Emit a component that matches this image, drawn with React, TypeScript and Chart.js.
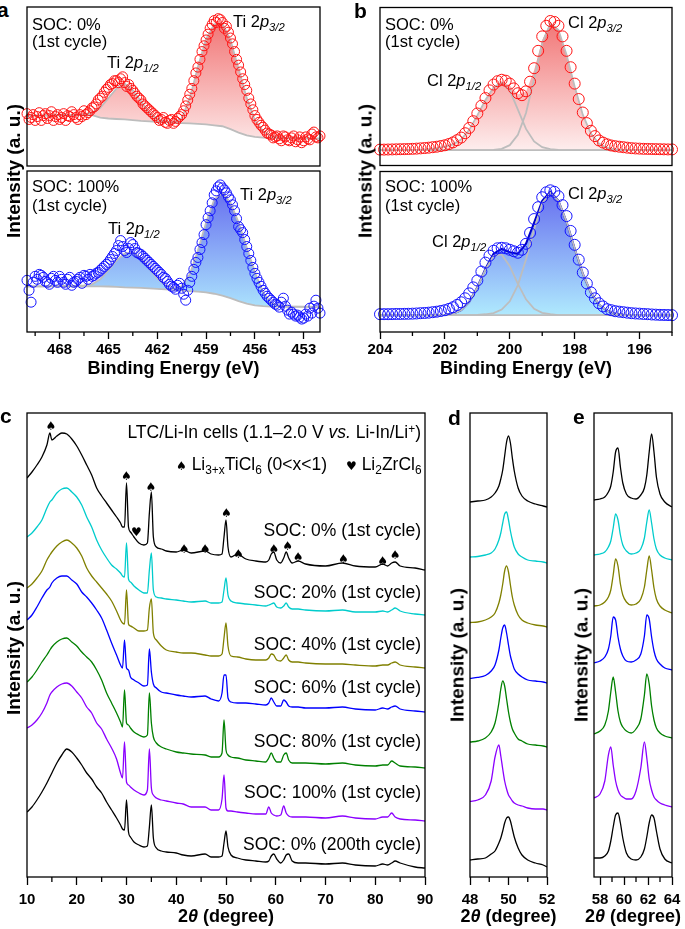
import React, { useEffect, useRef } from 'react';
import { Chart, registerables } from 'chart.js';

Chart.register(...registerables);

const FONT = '"Liberation Sans", Arial, Helvetica, sans-serif';
Chart.defaults.font.family = FONT;

// ---------------- Panel a : Ti 2p XPS ----------------
const aX = [470, 469.75, 469.5, 469.25, 469, 468.75, 468.5, 468.25, 468, 467.75, 467.5, 467.25, 467, 466.75, 466.5, 466.25, 466, 465.75, 465.5, 465.25, 465, 464.75, 464.5, 464.25, 464, 463.75, 463.5, 463.25, 463, 462.75, 462.5, 462.25, 462, 461.75, 461.5, 461.25, 461, 460.75, 460.5, 460.25, 460, 459.75, 459.5, 459.25, 459, 458.75, 458.5, 458.25, 458, 457.75, 457.5, 457.25, 457, 456.75, 456.5, 456.25, 456, 455.75, 455.5, 455.25, 455, 454.75, 454.5, 454.25, 454, 453.75, 453.5, 453.25, 453, 452.75, 452.5, 452.25, 452];
const aSoc0 = [54, 50, 47, 55, 52, 49, 56, 51, 48, 54, 52, 56, 50, 53, 57, 55, 60, 64, 70, 76, 81, 85, 88, 90, 86, 84, 78, 72, 68, 62, 58, 54, 50, 48, 45, 47, 44, 49, 53, 62, 74, 88, 102, 118, 130, 142, 150, 152, 148, 144, 132, 118, 104, 90, 78, 64, 52, 45, 40, 34, 32, 30, 28, 31, 27, 29, 25, 30, 26, 28, 33, 30, 31];
const aSoc100 = [52, 30, 56, 58, 55, 50, 54, 52, 56, 50, 53, 47, 51, 55, 57, 53, 56, 59, 62, 66, 70, 76, 82, 92, 82, 84, 88, 80, 78, 74, 70, 66, 62, 58, 54, 48, 45, 47, 44, 32, 50, 63, 75, 90, 108, 122, 138, 146, 145, 140, 133, 122, 106, 100, 86, 72, 59, 50, 42, 36, 32, 28, 25, 34, 22, 20, 16, 15, 14, 16, 19, 32, 19];
// in-between scan points (energies halfway between the values above)
const aXb = [469.875, 469.625, 469.375, 469.125, 468.875, 468.625, 468.375, 468.125, 467.875, 467.625, 467.375, 467.125, 466.875, 466.625, 466.375, 466.125, 465.875, 465.625, 465.375, 465.125, 464.875, 464.625, 464.375, 464.125, 463.875, 463.625, 463.375, 463.125, 462.875, 462.625, 462.375, 462.125, 461.875, 461.625, 461.375, 461.125, 460.875, 460.625, 460.375, 460.125, 459.875, 459.625, 459.375, 459.125, 458.875, 458.625, 458.375, 458.125, 457.875, 457.625, 457.375, 457.125, 456.875, 456.625, 456.375, 456.125, 455.875, 455.625, 455.375, 455.125, 454.875, 454.625, 454.375, 454.125, 453.875, 453.625, 453.375, 453.125, 452.875, 452.625, 452.375, 452.125];
const aSoc0b = [48, 53, 51, 47, 54, 52, 47, 53, 50, 47, 51, 53, 48, 51, 53, 57, 61, 68, 72, 79, 84, 88, 86, 92, 82, 80, 75, 70, 64, 60, 56, 52, 47, 50, 44, 48, 46, 51, 57, 68, 80, 96, 110, 124, 136, 146, 148, 151, 142, 138, 126, 110, 97, 84, 70, 58, 48, 42, 37, 33, 29, 31, 26, 30, 26, 31, 27, 24, 30, 27, 35, 29];
const aSoc100b = [42, 50, 53, 57, 51, 48, 56, 50, 53, 48, 55, 50, 53, 49, 56, 58, 57, 60, 64, 68, 73, 79, 87, 86, 80, 90, 84, 79, 76, 72, 68, 64, 60, 55, 51, 46, 43, 49, 38, 42, 56, 70, 83, 98, 115, 130, 142, 148, 143, 136, 128, 114, 103, 93, 79, 65, 54, 46, 39, 34, 30, 27, 30, 26, 18, 18, 17, 13, 18, 24, 26, 24];
const aFitX = [470, 469, 468, 467, 466.5, 466, 465.5, 465, 464.5, 464, 463.5, 463, 462.5, 462, 461.5, 461, 460.5, 460, 459.5, 459, 458.5, 458, 457.5, 457, 456.5, 456, 455.5, 455, 454.5, 454, 453, 452];
const aSoc0Env = [52, 52.3, 52.6, 53, 53.5, 55, 60, 70, 80, 85, 78, 67, 55, 48.5, 46, 45, 49, 70, 102, 131, 146, 147, 130, 100, 70, 47, 36, 31, 29.5, 29, 28.5, 28.3];
const aSoc0Bg = [52, 52, 52.2, 52.5, 52.6, 52.5, 50, 49, 48.5, 48, 47.3, 46.5, 46, 45.5, 45, 44.7, 44.3, 44, 43.5, 43, 42, 41, 38, 34.5, 31.5, 30, 29.3, 29, 28.8, 28.6, 28.4, 28.3];
const aSoc100Env = [46, 46, 46.3, 46.6, 47, 48, 53, 62, 72, 79, 80, 74, 64, 54, 47, 44, 46, 58, 82, 110, 133, 140, 130, 110, 85, 60, 40, 29, 26.5, 25.8, 25.5, 25.3];
const aSoc100Bg = [46, 46, 46, 46, 46, 46, 46, 45.8, 45.5, 45, 44.7, 44.3, 43.8, 43.3, 42.8, 42.3, 41.8, 41.2, 40.6, 39.8, 38.5, 36.5, 34, 31, 28.5, 26.8, 26, 25.6, 25.5, 25.4, 25.3, 25.3];
const aTicks = [468, 465, 462, 459, 456, 453];
const aMinor = [469.5, 466.5, 463.5, 460.5, 457.5, 454.5];

// ---------------- Panel b : Cl 2p XPS ----------------
const bX = [204, 203.75, 203.5, 203.25, 203, 202.75, 202.5, 202.25, 202, 201.75, 201.5, 201.25, 201, 200.75, 200.5, 200.25, 200, 199.75, 199.5, 199.25, 199, 198.75, 198.5, 198.25, 198, 197.75, 197.5, 197.25, 197, 196.75, 196.5, 196.25, 196, 195.75, 195.5, 195.25, 195];
const bSoc0 = [16.5, 16.6, 16.8, 17, 17.3, 17.8, 18.5, 19.5, 21, 24, 29, 39, 54, 70, 84, 89, 85, 75, 77, 101, 134, 150, 145, 119, 85, 55, 36, 26, 22, 20, 19, 18, 17.5, 17.2, 17, 16.8, 16.7];
const bSoc100 = [18, 18, 18.2, 18.3, 18.5, 19, 19.5, 20.5, 22, 25, 30, 39, 52, 70, 82, 85, 83, 80, 89, 114, 136, 143, 137, 117, 88, 60, 40, 29, 23, 21, 20, 19, 18.5, 18, 17.5, 17.2, 17];
// in-between scan points
const bXb = [203.875, 203.625, 203.375, 203.125, 202.875, 202.625, 202.375, 202.125, 201.875, 201.625, 201.375, 201.125, 200.875, 200.625, 200.375, 200.125, 199.875, 199.625, 199.375, 199.125, 198.875, 198.625, 198.375, 198.125, 197.875, 197.625, 197.375, 197.125, 196.875, 196.625, 196.375, 196.125, 195.875, 195.625, 195.375, 195.125];
const bSoc0b = [16.5, 16.7, 16.9, 17.1, 17.5, 18.1, 19, 20.2, 22.3, 26.3, 33.5, 46, 62, 78, 87.5, 88, 80, 73, 87, 119, 145, 149, 134, 102, 69, 44, 30.5, 23.8, 20.8, 19.5, 18.5, 17.7, 17.3, 17.1, 16.9, 16.7];
const bSoc100b = [18, 18.1, 18.2, 18.4, 18.7, 19.2, 20, 21.2, 23.3, 27.3, 34, 45, 61, 77, 84.5, 84.5, 81.5, 83, 100, 126, 141, 141.5, 128, 102, 73, 49, 34, 25.8, 22, 20.5, 19.5, 18.7, 18.2, 17.7, 17.3, 17.1];
const bSoc0P12 = [16, 16, 16, 16, 16, 16.5, 17, 18, 19.5, 22, 27, 37, 52, 68, 81, 86, 78, 58, 38, 25, 19, 17, 16.3, 16, 16, 16, 16, 16, 16, 16, 16, 16, 16, 16, 16, 16, 16];
const bSoc0P32 = [16, 16, 16, 16, 16, 16, 16, 16, 16, 16, 16, 16, 16, 16, 16.2, 17.3, 21.1, 31.8, 54.5, 89.8, 127, 147.3, 140.7, 115, 82, 52.8, 33.2, 22.7, 18.2, 16.6, 16, 16, 16, 16, 16, 16, 16];
const bSoc0Env = [16, 16, 16, 16, 16, 16.5, 17, 18, 19.5, 22, 27, 37, 52, 68, 81.2, 87.3, 83.1, 73.8, 76.5, 98.8, 130, 148.3, 141, 115, 82, 52.8, 33.2, 22.7, 18.2, 16.6, 16, 16, 16, 16, 16, 16, 16];
const bSoc0Bg = [16, 16, 16, 16, 16, 16, 16, 16, 16, 16, 16, 16, 16, 16, 16, 16, 16, 16, 16, 16, 16, 16, 16, 16, 16, 16, 16, 16, 16, 16, 16, 16, 16, 16, 16, 16, 16];
const bSoc100P12 = [17, 17, 17, 17, 17, 17, 17, 17, 17.3, 18.4, 22, 30.5, 45, 63, 77, 78.3, 66.5, 48.5, 33, 23.5, 19.4, 18, 17, 17, 17, 17, 17, 17, 17, 17, 17, 17, 17, 17, 17, 17, 17];
const bSoc100P32 = [17, 17, 17, 17, 17, 17, 17, 17, 17, 17, 17, 17, 17.2, 17.9, 19.1, 22.6, 31, 47.4, 73.1, 103.8, 130, 140.5, 132.5, 111.2, 84.2, 58.9, 39.7, 27.8, 21.4, 18.6, 17.5, 17, 17, 17, 17, 17, 17];
const bSoc100Env = [17, 17, 17, 17, 17, 17, 17, 17, 17.3, 18.4, 22, 30.5, 45.2, 63.9, 79.1, 83.9, 80.5, 78.9, 89.1, 110.3, 132.4, 141.5, 132.5, 111.2, 84.2, 58.9, 39.7, 27.8, 21.4, 18.6, 17.5, 17, 17, 17, 17, 17, 17];
const bSoc100Bg = [17, 17, 17, 17, 17, 17, 17, 17, 17, 17, 17, 17, 17, 17, 17, 17, 17, 17, 17, 17, 17, 17, 17, 17, 17, 17, 17, 17, 17, 17, 17, 17, 17, 17, 17, 17, 17];
const bTicks = [204, 202, 200, 198, 196];
const bMinor = [203, 201, 199, 197, 195];

// ---------------- Panel c : XRD ----------------
const cX = [10, 11, 12, 13, 14, 14.6, 15, 16, 17, 18, 19, 20, 21, 22, 23, 24, 25, 26, 27, 28, 28.8, 29.2, 29.6, 30, 30.4, 30.8, 31.5, 32.5, 33.5, 34.2, 34.6, 35, 35.4, 36, 37, 38, 40, 41.4, 43, 45.8, 47, 48.5, 49.2, 49.6, 50, 50.4, 51, 52.3, 54, 56, 58, 58.6, 59.1, 59.6, 60.2, 61, 61.6, 62.1, 62.6, 63.3, 64.5, 66, 70, 73.4, 76, 80, 81.5, 82.5, 83.3, 84, 85, 88, 90];
const cSoc0 = [92, 98, 105, 113, 125, 137, 130, 134, 137, 136, 131, 124, 115, 105, 95, 82, 74, 67, 60, 53, 47, 43, 43, 87, 43, 38, 33, 27, 25, 27, 57, 78, 33, 23, 21, 19, 18, 20, 17, 19, 16, 15, 16, 33, 50, 23, 13, 16, 11, 9, 8, 10, 16, 18, 10, 7, 12, 18, 12, 7, 9, 6, 4, 7, 4, 3, 6, 4, 7, 8, 4, 2, 0];
const cSoc20 = [78, 82, 88, 95, 107, 113, 115, 122, 126, 127, 123, 118, 110, 98, 88, 75, 65, 57, 50, 46, 42, 39, 38, 72, 36, 33, 29, 25, 22, 22, 45, 62, 25, 18, 17, 16, 15, 14, 13, 14, 12, 12, 13, 25, 37, 20, 14, 12, 11, 10, 9, 10, 11, 12, 8, 7, 9, 12, 8, 6, 6, 5, 4, 5, 3, 3, 4, 3, 5, 7, 4, 1, 0];
const cSoc40 = [80, 84, 90, 97, 108, 113, 116, 122, 126, 128, 125, 120, 112, 100, 92, 86, 80, 74, 67, 57, 48, 45, 44, 78, 44, 42, 40, 37, 37, 38, 60, 69, 35, 28, 22, 18, 16, 15, 15, 13, 12, 12, 14, 30, 45, 22, 12, 11, 9, 8, 8, 10, 14, 13, 8, 7, 10, 13, 8, 6, 6, 5, 4, 4, 3, 2, 3, 3, 5, 6, 3, 1, 0];
const cSoc60 = [92, 97, 105, 114, 122, 125, 129, 134, 136, 136, 132, 128, 120, 115, 109, 102, 94, 82, 69, 57, 47, 44, 72, 44, 42, 35, 32, 29, 26, 27, 63, 40, 28, 24, 20, 19, 17, 16, 15, 16, 13, 11, 19, 37, 37, 14, 10, 9, 9, 8, 7, 9, 14, 10, 6, 6, 12, 10, 6, 5, 5, 4, 4, 5, 3, 2, 4, 3, 5, 6, 3, 1, 0];
const cSoc80 = [86, 91, 98, 106, 113, 118, 121, 126, 129, 130, 126, 122, 116, 111, 106, 98, 88, 75, 65, 55, 46, 41, 78, 45, 43, 40, 36, 33, 31, 33, 75, 45, 31, 25, 21, 19, 16, 15, 14, 13, 11, 11, 15, 48, 18, 13, 11, 10, 8, 7, 6, 10, 15, 10, 6, 6, 13, 15, 8, 5, 5, 5, 4, 5, 3, 2, 3, 3, 7, 5, 2, 1, 0];
const cSoc100 = [93, 96, 101, 108, 118, 126, 129, 134, 137, 138, 135, 129, 123, 114, 108, 98, 92, 82, 73, 62, 48, 43, 79, 39, 36, 34, 31, 28, 26, 31, 72, 33, 26, 23, 21, 20, 18, 17, 14, 14, 11, 11, 22, 46, 13, 10, 10, 9, 8, 7, 7, 14, 8, 6, 5, 6, 15, 8, 5, 4, 4, 4, 3, 5, 3, 2, 4, 4, 8, 4, 2, 1, 0];
const cSoc0c200 = [56, 61, 68, 76, 85, 91, 95, 105, 113, 119, 116, 110, 103, 95, 89, 81, 75, 66, 58, 50, 43, 39, 38, 68, 36, 31, 26, 23, 21, 22, 41, 63, 30, 20, 17, 16, 15, 13, 12, 14, 11, 11, 12, 25, 37, 21, 13, 10, 8, 7, 6, 7, 12, 14, 9, 5, 8, 13, 14, 7, 5, 5, 4, 5, 3, 2, 4, 3, 5, 7, 5, 1, 0];
const cOffsets = [307, 262, 209, 165, 109, 56, 9];
const cTicks = [10, 20, 30, 40, 50, 60, 70, 80, 90];
const cMinor = [15, 25, 35, 45, 55, 65, 75, 85];
const spadeX = [14.8, 30, 34.9, 41.6, 45.8, 50.1, 52.5, 59.6, 62.4, 64.5, 73.6, 81.5, 84];
const spadeY = [450, 400, 389, 327, 327, 363, 322, 327, 330, 319, 317, 315, 321];
const heartX = [32];
const heartY = [344];

// ---------------- Panel d : 48-52 deg ----------------
const dX = [48, 48.4, 48.8, 49.1, 49.3, 49.5, 49.6, 49.7, 49.8, 49.9, 50, 50.1, 50.2, 50.3, 50.5, 50.7, 51, 51.4, 51.8, 52];
const dSoc0 = [5, 6, 7, 10, 14, 21, 28, 37, 51, 65, 71, 64, 49, 36, 19, 11, 6, 3, 1, 0];
const dSoc20 = [6, 6.5, 8, 10, 14, 23, 30, 40, 49, 51, 43, 32, 23, 16, 9, 6, 3, 2, 1, 0];
const dSoc40 = [4.5, 5, 7, 10, 14, 24, 32, 43, 56, 61, 55, 42, 30, 22, 12, 7, 4, 2, 1, 0];
const dSoc60 = [4.6, 5.6, 7.5, 12, 18, 33, 45, 55, 58, 50, 38, 27, 20, 14, 9, 6, 3, 2, 1, 0];
const dSoc80 = [5, 6, 9, 15, 24, 44, 58, 66, 61, 48, 35, 25, 18, 14, 8, 6, 3, 2, 1, 0];
const dSoc100 = [8.6, 10, 15, 29, 53, 65, 54, 41, 29, 21, 15, 12, 9, 7, 5, 4, 2, 1, 1, 0];
const dSoc0c200 = [7, 8, 9, 13, 16, 24, 29, 36, 44, 49, 50, 46, 38, 30, 19, 12, 7, 4, 2, 0];
const dOffsets = [370, 314, 250, 194, 130, 67, 10];
const dTicks = [48, 50, 52];
const dMinor = [49, 51];

// ---------------- Panel e : 57.5-64 deg ----------------
const eX = [57.5, 58, 58.4, 58.7, 58.9, 59.1, 59.3, 59.5, 59.7, 59.9, 60.2, 60.6, 61, 61.4, 61.7, 61.9, 62.1, 62.3, 62.5, 62.7, 63, 63.4, 64];
const eSoc0 = [10, 11, 13, 18, 24, 38, 58, 62, 43, 27, 16, 12, 11, 15, 22, 35, 58, 76, 58, 33, 16, 8, 3];
const eSoc20 = [7, 8, 10, 15, 21, 34, 48, 42, 27, 17, 11, 8, 9, 13, 24, 40, 52, 39, 23, 13, 7, 4, 2];
const eSoc40 = [9, 10, 13, 18, 25, 40, 56, 49, 31, 20, 13, 10, 11, 16, 28, 45, 59, 45, 27, 16, 9, 5, 2];
const eSoc60 = [9, 11, 15, 23, 36, 55, 52, 35, 23, 16, 11, 10, 12, 18, 36, 57, 53, 35, 21, 13, 8, 4, 2];
const eSoc80 = [6, 9, 15, 29, 48, 63, 48, 29, 18, 13, 9, 7, 11, 21, 45, 66, 56, 34, 20, 12, 7, 4, 2];
const eSoc100 = [10, 14, 27, 53, 61, 43, 27, 18, 13, 11, 9, 9, 17, 40, 66, 50, 29, 18, 11, 8, 5, 3, 1];
const eSoc0c200 = [5, 5, 7, 12, 22, 36, 48, 50, 40, 25, 10, 4, 3, 6, 14, 26, 40, 48, 45, 32, 14, 4, 0];
const eOffsets = [367, 315, 262, 205, 137, 69, 14];
const eTicks = [58, 60, 62, 64];
const eMinor = [59, 61, 63];

const COLORS = ['#000000', '#00CCCC', '#808000', '#0000FF', '#008000', '#8B00FF', '#000000'];
const SOC_LABELS = ['SOC: 0% (1st cycle)', 'SOC: 20% (1st cycle)', 'SOC: 40% (1st cycle)', 'SOC: 60% (1st cycle)', 'SOC: 80% (1st cycle)', 'SOC: 100% (1st cycle)', 'SOC: 0% (200th cycle)'];

// ---------------- helpers ----------------
const GRAY = '#bdbdbd';
const RED = '#ff1414';
const BLUE = '#1414ff';
const PAD = { left: 16, right: 16, top: 5, bottom: 2 };

type Box = { x0: number; y0: number; x1: number; y1: number };
type Axis = { ticks: number[]; tickLen: number; pad: number } | null;

function rectFor(box: Box, axis: Axis) {
  const axisH = axis ? axis.tickLen + 18 + 2 * axis.pad : 0;
  return {
    left: box.x0 - PAD.left,
    top: box.y0 - PAD.top,
    width: box.x1 - box.x0 + PAD.left + PAD.right,
    height: PAD.top + (box.y1 - box.y0) + axisH + PAD.bottom,
  };
}

const pts = (xs: number[], ys: number[], off = 0) => xs.map((x, i) => ({ x, y: ys[i] + off }));

const grad = (top: string, bottom: string) => (ctx: any) => {
  const chart = ctx.chart;
  const a = chart.chartArea;
  if (!a) return 'rgba(0,0,0,0)';
  const g = chart.ctx.createLinearGradient(0, a.top, 0, a.bottom);
  g.addColorStop(0, top);
  g.addColorStop(1, bottom);
  return g;
};

function line(xs: number[], ys: number[], color: string, w: number, extra: any = {}) {
  return { data: pts(xs, ys), borderColor: color, borderWidth: w, pointRadius: 0, pointHoverRadius: 0, fill: false, tension: 0, order: 3, ...extra };
}

function circles(xs: number[], ys: number[], color: string, r: number) {
  return {
    data: pts(xs, ys), showLine: false, pointRadius: r, pointHoverRadius: r, pointBorderWidth: 1,
    pointBorderColor: color, pointBackgroundColor: 'rgba(255,255,255,0)', borderColor: color,
    backgroundColor: 'rgba(255,255,255,0)', clip: false, order: 1,
  };
}

function options(p: { xmin: number; xmax: number; reverse: boolean; ymax: number; axis: Axis }) {
  const axis = p.axis;
  return {
    responsive: false,
    animation: false,
    devicePixelRatio: 1,
    events: [],
    layout: { padding: PAD },
    plugins: { legend: { display: false }, tooltip: { enabled: false } },
    scales: {
      x: {
        type: 'linear', min: p.xmin, max: p.xmax, reverse: p.reverse, bounds: 'data', display: !!axis,
        afterBuildTicks: (s: any) => { if (axis) s.ticks = axis.ticks.map((v) => ({ value: v })); },
        ticks: {
          autoSkip: false, maxRotation: 0, minRotation: 0, padding: axis ? axis.pad : 3, color: '#000',
          font: { family: FONT, size: 15, weight: 'bold' }, callback: (v: any) => String(v),
        },
        grid: { drawOnChartArea: false, drawTicks: true, tickLength: axis ? axis.tickLen : 0, tickColor: '#000', tickWidth: 1.3 },
        border: { display: false },
      },
      y: { type: 'linear', min: 0, max: p.ymax, display: false },
    },
  };
}

function framePlugin(minor: number[] = [], minorLen = 4, glyphs: { x: number; y: number; t: string }[] = []) {
  return {
    id: 'frame',
    afterDraw(chart: any) {
      const { ctx, chartArea: a, scales } = chart;
      ctx.save();
      ctx.strokeStyle = '#000';
      ctx.lineWidth = 1.3;
      ctx.strokeRect(a.left, a.top, a.right - a.left, a.bottom - a.top);
      for (const v of minor) {
        const px = scales.x.getPixelForValue(v);
        ctx.beginPath();
        ctx.moveTo(px, a.bottom);
        ctx.lineTo(px, a.bottom + minorLen);
        ctx.stroke();
      }
      ctx.fillStyle = '#000';
      ctx.font = '12px "DejaVu Sans"';
      ctx.textAlign = 'center';
      ctx.textBaseline = 'middle';
      for (const g of glyphs) ctx.fillText(g.t, scales.x.getPixelForValue(g.x), scales.y.getPixelForValue(g.y));
      ctx.restore();
    },
  };
}

// ---------------- boxes ----------------
const A_TOP: Box = { x0: 27, y0: 6, x1: 320, y1: 170 };
const A_BOT: Box = { x0: 27, y0: 170, x1: 320, y1: 332 };
const B_TOP: Box = { x0: 380, y0: 6, x1: 672, y1: 170 };
const B_BOT: Box = { x0: 380, y0: 170, x1: 672, y1: 332 };
const C_BOX: Box = { x0: 27, y0: 413, x1: 425, y1: 877 };
const D_BOX: Box = { x0: 470, y0: 413, x1: 547, y1: 877 };
const E_BOX: Box = { x0: 594, y0: 413, x1: 672, y1: 877 };

const XPS_AXIS_A: Axis = { ticks: aTicks, tickLen: 7, pad: 2 };
const XPS_AXIS_B: Axis = { ticks: bTicks, tickLen: 7, pad: 2 };
const XRD_AXIS_C: Axis = { ticks: cTicks, tickLen: 8, pad: 6 };
const XRD_AXIS_D: Axis = { ticks: dTicks, tickLen: 8, pad: 6 };
const XRD_AXIS_E: Axis = { ticks: eTicks, tickLen: 8, pad: 6 };

const RED_TOP = 'rgb(240,104,104)';
const RED_BOT = 'rgb(255,252,252)';
const BLUE_TOP = 'rgb(92,92,238)';
const BLUE_BOT = 'rgb(185,250,255)';

const cfgATop = () => ({
  type: 'line',
  data: { datasets: [
    line(aFitX, aSoc0Bg, GRAY, 1.8),
    line(aFitX, aSoc0Env, GRAY, 1.8, { fill: '-1', backgroundColor: grad(RED_TOP, RED_BOT), order: 10 }),
    circles(aX, aSoc0, RED, 5),
    circles(aXb, aSoc0b, RED, 5),
  ] },
  options: options({ xmin: 452, xmax: 470, reverse: true, ymax: 164, axis: null }),
  plugins: [framePlugin()],
});

const cfgABot = () => ({
  type: 'line',
  data: { datasets: [
    line(aFitX, aSoc100Bg, GRAY, 1.8),
    line(aFitX, aSoc100Env, GRAY, 1.8, { fill: '-1', backgroundColor: grad(BLUE_TOP, BLUE_BOT), order: 10 }),
    circles(aX, aSoc100, BLUE, 5),
    circles(aXb, aSoc100b, BLUE, 5),
  ] },
  options: options({ xmin: 452, xmax: 470, reverse: true, ymax: 162, axis: XPS_AXIS_A }),
  plugins: [framePlugin(aMinor, 4)],
});

const cfgBTop = () => ({
  type: 'line',
  data: { datasets: [
    line(bX, bSoc0Bg, GRAY, 1.8),
    line(bX, bSoc0Env, 'rgba(0,0,0,0)', 1, { fill: '-1', backgroundColor: grad(RED_TOP, RED_BOT), order: 10 }),
    line(bX, bSoc0P12, GRAY, 1.8),
    line(bX, bSoc0P32, GRAY, 1.8),
    circles(bX, bSoc0, RED, 5.5),
    circles(bXb, bSoc0b, RED, 5.5),
  ] },
  options: options({ xmin: 195, xmax: 204, reverse: true, ymax: 164, axis: null }),
  plugins: [framePlugin()],
});

const cfgBBot = () => ({
  type: 'line',
  data: { datasets: [
    line(bX, bSoc100Bg, GRAY, 1.8),
    line(bX, bSoc100Env, '#0000c8', 2, { fill: '-1', backgroundColor: grad(BLUE_TOP, BLUE_BOT), order: 10 }),
    line(bX, bSoc100P12, GRAY, 1.8),
    line(bX, bSoc100P32, GRAY, 1.8),
    circles(bX, bSoc100, BLUE, 5.5),
    circles(bXb, bSoc100b, BLUE, 5.5),
  ] },
  options: options({ xmin: 195, xmax: 204, reverse: true, ymax: 162, axis: XPS_AXIS_B }),
  plugins: [framePlugin(bMinor, 4)],
});

function xrdConfig(xs: number[], series: number[][], offsets: number[], xmin: number, xmax: number, axis: Axis, minor: number[], glyphs: any[] = []) {
  return {
    type: 'line',
    data: {
      datasets: series.map((s, i) => ({
        data: pts(xs, s, offsets[i]), borderColor: COLORS[i], borderWidth: 1.3, pointRadius: 0, pointHoverRadius: 0,
        fill: false, cubicInterpolationMode: 'monotone',
      })),
    },
    options: options({ xmin, xmax, reverse: false, ymax: 464, axis }),
    plugins: [framePlugin(minor, 5, glyphs)],
  };
}

const glyphsC = [
  ...spadeX.map((x, i) => ({ x, y: spadeY[i], t: '\u2660' })),
  ...heartX.map((x, i) => ({ x, y: heartY[i], t: '\u2665' })),
];

const cfgC = () => xrdConfig(cX, [cSoc0, cSoc20, cSoc40, cSoc60, cSoc80, cSoc100, cSoc0c200], cOffsets, 10, 90, XRD_AXIS_C, cMinor, glyphsC);
const cfgD = () => xrdConfig(dX, [dSoc0, dSoc20, dSoc40, dSoc60, dSoc80, dSoc100, dSoc0c200], dOffsets, 48, 52, XRD_AXIS_D, dMinor);
const cfgE = () => xrdConfig(eX, [eSoc0, eSoc20, eSoc40, eSoc60, eSoc80, eSoc100, eSoc0c200], eOffsets, 57.5, 64, XRD_AXIS_E, eMinor);

function ChartCanvas({ box, axis, build }: { box: Box; axis: Axis; build: () => any }) {
  const ref = useRef<HTMLCanvasElement | null>(null);
  const r = rectFor(box, axis);
  useEffect(() => {
    const chart = new Chart(ref.current as HTMLCanvasElement, build());
    return () => chart.destroy();
  }, []);
  return (
    <canvas
      ref={ref}
      width={r.width}
      height={r.height}
      style={{ position: 'absolute', left: r.left, top: r.top, width: r.width, height: r.height }}
    />
  );
}

// ---------------- text ----------------
type TP = { x: number; y: number; a?: 'start' | 'middle' | 'end'; s?: number; b?: boolean; rot?: boolean; children: React.ReactNode };
function T({ x, y, a = 'start', s = 16.5, b = false, rot = false, children }: TP) {
  const tx = rot ? '-50%' : a === 'end' ? '-100%' : a === 'middle' ? '-50%' : '0';
  return (
    <div
      style={{
        position: 'absolute', left: x, top: y,
        transform: `translate(${tx}, -50%)${rot ? ' rotate(-90deg)' : ''}`,
        fontFamily: FONT, fontSize: s, fontWeight: b ? 700 : 400, lineHeight: 1,
        whiteSpace: 'nowrap', color: '#000',
      }}
    >
      {children}
    </div>
  );
}
const Sub = ({ children }: { children: React.ReactNode }) => (
  <span style={{ fontSize: '0.68em', position: 'relative', top: '0.35em' }}>{children}</span>
);
const Sup = ({ children }: { children: React.ReactNode }) => (
  <span style={{ fontSize: '0.68em', position: 'relative', top: '-0.45em' }}>{children}</span>
);
const Orb = ({ el, j }: { el: string; j: string }) => (
  <>
    {el} 2<i>p</i>
    <Sub><i>{j}</i></Sub>
  </>
);
const Sym = ({ c }: { c: string }) => (
  <span style={{ fontFamily: '"DejaVu Sans"', fontSize: 12 }}>{c}</span>
);

const socY = [531, 593, 645, 688, 742, 793, 845];

export default function App() {
  return (
    <div style={{ position: 'absolute', left: 0, top: 0, width: 685, height: 929, overflow: 'hidden', background: '#fff' }}>
      <ChartCanvas box={A_TOP} axis={null} build={cfgATop} />
      <ChartCanvas box={A_BOT} axis={XPS_AXIS_A} build={cfgABot} />
      <ChartCanvas box={B_TOP} axis={null} build={cfgBTop} />
      <ChartCanvas box={B_BOT} axis={XPS_AXIS_B} build={cfgBBot} />
      <ChartCanvas box={C_BOX} axis={XRD_AXIS_C} build={cfgC} />
      <ChartCanvas box={D_BOX} axis={XRD_AXIS_D} build={cfgD} />
      <ChartCanvas box={E_BOX} axis={XRD_AXIS_E} build={cfgE} />

      {/* panel letters */}
      <T x={-3} y={9} s={21} b>a</T>
      <T x={354} y={10} s={21} b>b</T>
      <T x={0} y={415} s={21} b>c</T>
      <T x={448} y={417} s={21} b>d</T>
      <T x={573} y={416} s={21} b>e</T>

      {/* panel a texts */}
      <T x={32} y={24}>SOC: 0%</T>
      <T x={32} y={41}>(1st cycle)</T>
      <T x={107} y={62}><Orb el="Ti" j="1/2" /></T>
      <T x={233} y={21}><Orb el="Ti" j="3/2" /></T>
      <T x={32} y={186}>SOC: 100%</T>
      <T x={32} y={205}>(1st cycle)</T>
      <T x={108} y={228}><Orb el="Ti" j="1/2" /></T>
      <T x={240} y={194}><Orb el="Ti" j="3/2" /></T>

      {/* panel b texts */}
      <T x={385} y={24}>SOC: 0%</T>
      <T x={385} y={41}>(1st cycle)</T>
      <T x={427} y={80}><Orb el="Cl" j="1/2" /></T>
      <T x={568} y={22}><Orb el="Cl" j="3/2" /></T>
      <T x={385} y={186}>SOC: 100%</T>
      <T x={385} y={205}>(1st cycle)</T>
      <T x={432} y={241}><Orb el="Cl" j="1/2" /></T>
      <T x={568} y={193}><Orb el="Cl" j="3/2" /></T>

      {/* axis titles a/b */}
      <T x={173.5} y={368} a="middle" s={18} b>Binding Energy (eV)</T>
      <T x={526} y={368} a="middle" s={18} b>Binding Energy (eV)</T>
      <T x={13} y={171} s={19} b rot>Intensity (a. u.)</T>
      <T x={365} y={171} s={19} b rot>Intensity (a. u.)</T>

      {/* panel c texts */}
      <T x={421} y={433} a="end" s={17.5}>
        LTC/Li-In cells (1.1–2.0 V <i>vs.</i> Li-In/Li<Sup>+</Sup>)
      </T>
      <T x={176} y={465} s={17.5}>
        <Sym c={'\u2660'} /> Li<Sub>3+x</Sub>TiCl<Sub>6</Sub> {'(0<x<1)'}
      </T>
      <T x={346} y={465} s={17.5}>
        <Sym c={'\u2665'} /> Li<Sub>2</Sub>ZrCl<Sub>6</Sub>
      </T>
      {SOC_LABELS.map((l, i) => (
        <T key={l} x={421} y={socY[i]} a="end" s={17.5}>{l}</T>
      ))}

      {/* axis titles c/d/e */}
      <T x={13} y={648} s={19} b rot>Intensity (a. u.)</T>
      <T x={457} y={655} s={19} b rot>Intensity (a. u.)</T>
      <T x={581} y={655} s={19} b rot>Intensity (a. u.)</T>
      <T x={226} y={916} a="middle" s={18} b>2<i>θ</i> (degree)</T>
      <T x={508.5} y={916} a="middle" s={18} b>2<i>θ</i> (degree)</T>
      <T x={633} y={916} a="middle" s={18} b>2<i>θ</i> (degree)</T>
    </div>
  );
}
